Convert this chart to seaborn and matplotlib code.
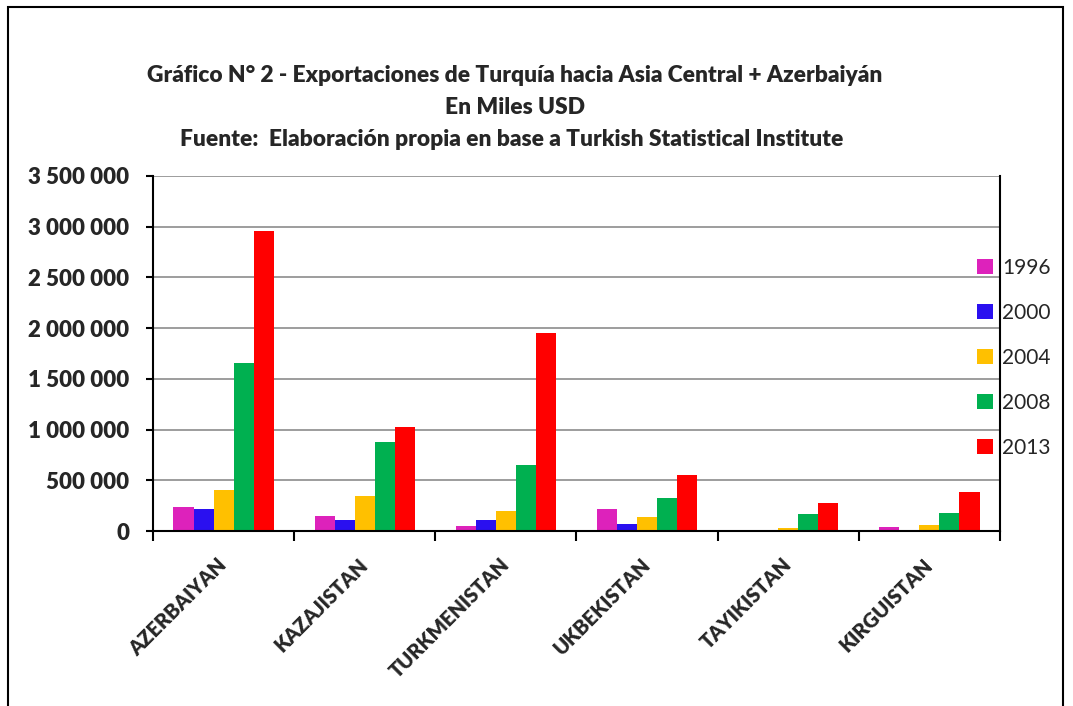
import pandas as pd
import numpy as np
import seaborn as sns
import matplotlib.pyplot as plt
from matplotlib.patches import Rectangle
from matplotlib.ticker import FuncFormatter, FixedLocator

countries = ["AZERBAIYAN", "KAZAJISTAN", "TURKMENISTAN", "UKBEKISTAN", "TAYIKISTAN", "KIRGUISTAN"]
years = ["1996", "2000", "2004", "2008", "2013"]
v1996 = [235000, 150000, 50000, 215000, 0, 37000]
v2000 = [220000, 106000, 106000, 72000, 0, 10000]
v2004 = [405000, 347000, 198000, 139000, 27000, 60000]
v2008 = [1660000, 880000, 650000, 324000, 165000, 181000]
v2013 = [2960000, 1030000, 1950000, 555000, 274000, 380000]
colors = ["#DD22BB", "#2A10F0", "#FFC000", "#00B050", "#FF0000"]

rows = []
for yr, vals in zip(years, [v1996, v2000, v2004, v2008, v2013]):
    for c, v in zip(countries, vals):
        rows.append({"country": c, "year": yr, "value": v})
df = pd.DataFrame(rows)

sns.set_style("white")
plt.rcParams["font.family"] = ["Lato", "DejaVu Sans"]

fig = plt.figure(figsize=(10.73, 7.06), dpi=100)
ax = fig.add_axes([153 / 1073, 1 - 531 / 706, (1000 - 153) / 1073, (531 - 176) / 706])

sns.barplot(data=df, x="country", y="value", hue="year", palette=colors,
            width=0.71, gap=0, saturation=1, ax=ax, edgecolor="none")

ax.set_ylim(0, 3500000)
ax.set_xlim(-0.5, len(countries) - 0.5)
ax.set_yticks(np.arange(0, 3500001, 500000))
ax.yaxis.set_major_formatter(FuncFormatter(lambda v, p: f"{int(v):,}".replace(",", " ")))
ax.yaxis.grid(True, color="#8c8c8c", linewidth=1.2)
ax.set_axisbelow(True)
for lbl in ax.get_yticklabels():
    lbl.set_fontweight("heavy")
    lbl.set_fontsize(16)

ax.set_xticks(range(len(countries)))
ax.set_xticklabels(countries, rotation=45, ha="right", va="center", rotation_mode="anchor",
                   fontsize=14.5, fontweight="heavy")
ax.xaxis.set_minor_locator(FixedLocator(np.arange(-0.5, len(countries), 1)))
ax.tick_params(axis="x", which="major", length=0, pad=22)
ax.tick_params(axis="x", which="minor", length=7, width=1.5, color="black", direction="out", bottom=True)
ax.tick_params(axis="y", length=5, width=1.5, color="black", direction="out", left=True, pad=12)

ax.spines["top"].set_visible(False)
for s in ["left", "bottom", "right"]:
    ax.spines[s].set_color("black")
    ax.spines[s].set_linewidth(1.5)
ax.set_xlabel("")
ax.set_ylabel("")

handles, labels = ax.get_legend_handles_labels()
ax.legend_.remove()
fig.legend(handles, labels, loc="upper left", bbox_to_anchor=(977 / 1073, 1 - 258 / 706),
           frameon=False, fontsize=15, handlelength=0.75, handleheight=0.75,
           labelspacing=1.2, borderaxespad=0, borderpad=0, handletextpad=0.45)

fig.text(515 / 1073, 1 - 76 / 706, "Gráfico N° 2 - Exportaciones de Turquía hacia Asia Central + Azerbaiyán",
         ha="center", va="center", fontsize=16.4, fontweight="heavy")
fig.text(515 / 1073, 1 - 107 / 706, "En Miles USD",
         ha="center", va="center", fontsize=16.4, fontweight="heavy")
fig.text(512 / 1073, 1 - 139 / 706, "Fuente:  Elaboración propia en base a Turkish Statistical Institute",
         ha="center", va="center", fontsize=16.4, fontweight="heavy")

fig.patches.append(Rectangle((8 / 1073, -0.1), (1063 - 8) / 1073, 1.1 - 7 / 706,
                             transform=fig.transFigure, fill=False, edgecolor="black",
                             linewidth=1.5, figure=fig))

fig.savefig("out.png", dpi=100)
